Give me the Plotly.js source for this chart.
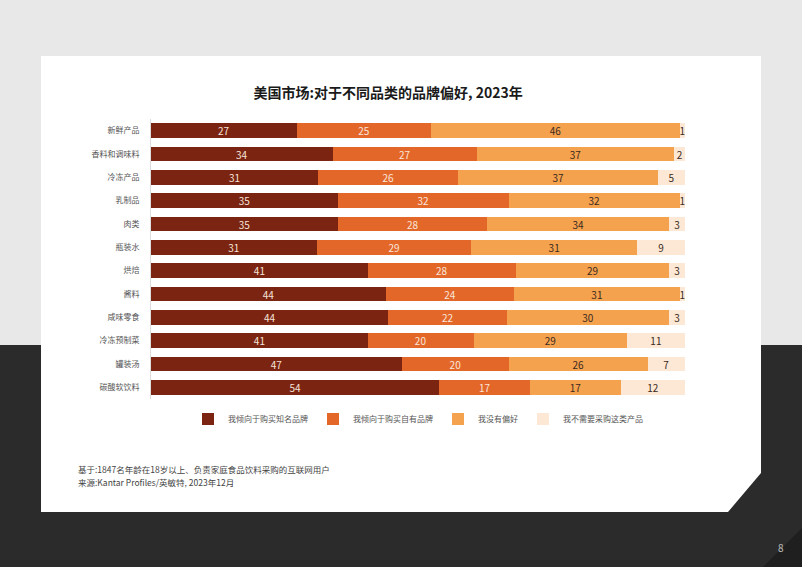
<!DOCTYPE html>
<html>
<head>
<meta charset="utf-8">
<script src="https://cdn.plot.ly/plotly-3.0.1.min.js"></script>
<style>
  html, body { margin:0; padding:0; width:802px; height:567px; overflow:hidden; }
  #bg { position:absolute; left:0; top:0; width:802px; height:567px;
        background: linear-gradient(to bottom, #e8e8e8 0px, #e8e8e8 345px, #2b2b2b 345px, #2b2b2b 567px); }
  #card { position:absolute; left:41px; top:56px; width:720px; height:456px; background:#ffffff;
          clip-path: polygon(0 0, 100% 0, 100% 417px, 687px 100%, 0 100%); }
  #corner { position:absolute; left:0; top:0; width:802px; height:567px; background:#1f1f1f;
            clip-path: polygon(802px 528px, 802px 567px, 763px 567px); }
  #chart { position:absolute; left:0; top:0; width:802px; height:567px; }
</style>
</head>
<body>
<div id="bg"></div>
<div id="card"></div>
<div id="corner"></div>
<div id="chart"></div>
<script>
const categories = ["新鲜产品","香料和调味料","冷冻产品","乳制品","肉类","瓶装水","烘焙","酱料","咸味零食","冷冻预制菜","罐装汤","碳酸软饮料"];
const seriesNames = ["我倾向于购买知名品牌","我倾向于购买自有品牌","我没有偏好","我不需要采购这类产品"];
const knownBrand   = [27,34,31,35,35,31,41,44,44,41,47,54];
const ownBrand     = [25,27,26,32,28,29,28,24,22,20,20,17];
const noPreference = [46,37,37,32,34,31,29,31,30,29,26,17];
const noNeed       = [1,2,5,1,3,9,3,1,3,11,7,12];

const seriesValues = [knownBrand, ownBrand, noPreference, noNeed];
const colors = ["#7b2412","#e4672a","#f5a24e","#fde8d6"];
const textColors = ["#f6e3d8","#f8e6da","#3b2a20","#3b2a20"];

const traces = seriesValues.map((vals, i) => ({
  type: "bar",
  orientation: "h",
  name: seriesNames[i],
  y: categories,
  x: vals,
  text: vals.map(String),
  texttemplate: "%{text}",
  textposition: "inside",
  insidetextanchor: "middle",
  textangle: 0,
  textfont: { size: 10, color: textColors[i], family: "Noto Sans CJK SC, sans-serif" },
  marker: { color: colors[i], line: { width: 0 } },
  hoverinfo: "skip"
}));

const layout = {
  width: 802, height: 567,
  margin: { l: 151, r: 117, t: 119, b: 168 },
  paper_bgcolor: "rgba(0,0,0,0)",
  plot_bgcolor: "rgba(0,0,0,0)",
  font: { family: "Noto Sans CJK SC, sans-serif", color: "#555" },
  barmode: "stack",
  barnorm: "percent",
  bargap: 0.36,
  uniformtext: { mode: "show", minsize: 10 },
  showlegend: true,
  legend: {
    orientation: "h", x: 0.5, xanchor: "center", y: -0.071, yanchor: "middle",
    traceorder: "normal", font: { size: 8, color: "#555" }, itemwidth: 30
  },
  title: {
    text: "美国市场:对于不同品类的品牌偏好, 2023年",
    font: { size: 14, color: "#1a1a1a", family: "Noto Sans CJK SC, sans-serif", weight: "bold" },
    xref: "paper", x: 0.444, xanchor: "center",
    yref: "container", y: 1 - 93/567, yanchor: "middle"
  },
  xaxis: { range: [0, 100], visible: false, fixedrange: true },
  yaxis: {
    autorange: "reversed", showline: true, linecolor: "#dddddd", linewidth: 1,
    ticks: "", ticklabelstandoff: 9, showgrid: false, zeroline: false,
    tickfont: { size: 8, color: "#555" }, fixedrange: true
  },
  annotations: [
    { text: "基于:1847名年龄在18岁以上、负责家庭食品饮料采购的互联网用户", xref: "paper", yref: "paper",
      x: -0.141, y: -0.25, xanchor: "left", yanchor: "middle", showarrow: false,
      font: { size: 8.5, color: "#444" } },
    { text: "来源:Kantar Profiles/英敏特, 2023年12月", xref: "paper", yref: "paper",
      x: -0.141, y: -0.296, xanchor: "left", yanchor: "middle", showarrow: false,
      font: { size: 8.5, color: "#444" } },
    { text: "8", xref: "paper", yref: "paper", x: (781-151)/534, y: 1 - (547-119)/280,
      xanchor: "center", yanchor: "middle", showarrow: false, font: { size: 10, color: "#bbbbbb" } }
  ]
};

Plotly.newPlot("chart", traces, layout, { displayModeBar: false, staticPlot: true });
</script>
</body>
</html>
